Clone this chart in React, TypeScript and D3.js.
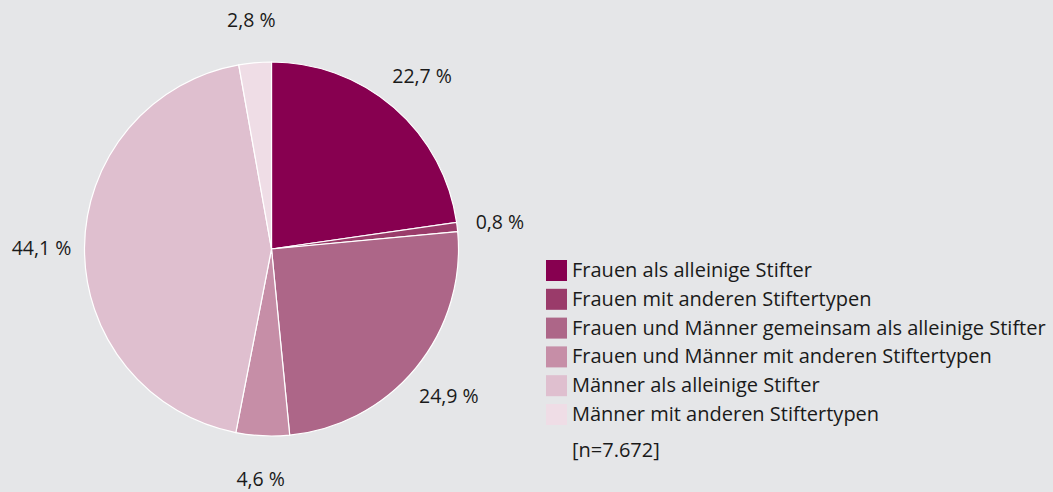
import React from "react";
import * as d3 from "d3";

const categories = [
  "Frauen als alleinige Stifter",
  "Frauen mit anderen Stiftertypen",
  "Frauen und Männer gemeinsam als alleinige Stifter",
  "Frauen und Männer mit anderen Stiftertypen",
  "Männer als alleinige Stifter",
  "Männer mit anderen Stiftertypen",
];
const values = [22.7, 0.8, 24.9, 4.6, 44.1, 2.8];
const colors = ["#870050", "#9a3b6a", "#ad6688", "#c68ea7", "#dfbfcf", "#efdde6"];
const note = "[n=7.672]";

const W = 1053;
const H = 492;
const cx = 271.5;
const cy = 249;
const R = 187;
const labelR = 230;
const font = "'Open Sans', 'Noto Sans', sans-serif";

export default function App() {
  const pie = d3.pie<number>().sort(null).value((d) => d)(values);
  const arc = d3.arc<d3.PieArcDatum<number>>().innerRadius(0).outerRadius(R);
  const fmt = (v: number) => v.toFixed(1).replace(".", ",") + " %";
  const legendY = d3.scaleLinear().domain([0, 5]).range([260, 404]);
  return (
    <svg width={W} height={H} style={{ position: "absolute", left: 0, top: 0, background: "#e5e6e8" }}>
      <rect x={0} y={0} width={W} height={H} fill="#e5e6e8" />
      <g transform={`translate(${cx},${cy})`}>
        {pie.map((p, i) => (
          <path key={i} d={arc(p) || ""} fill={colors[i]} stroke="#ffffff" strokeWidth={1.2} />
        ))}
        {pie.map((p, i) => {
          const a = (p.startAngle + p.endAngle) / 2;
          const x = labelR * Math.sin(a);
          const y = -labelR * Math.cos(a);
          return (
            <text key={i} x={x} y={y} textAnchor="middle" dominantBaseline="central" fontFamily={font} fontSize={19.5} fill="#1a1a1a">
              {fmt(values[i])}
            </text>
          );
        })}
      </g>
      {categories.map((c, i) => (
        <g key={i} transform={`translate(546,${legendY(i)})`}>
          <rect x={0} y={0} width={21} height={21} fill={colors[i]} />
          <text x={26} y={17} fontFamily={font} fontSize={20} fill="#1a1a1a">{c}</text>
        </g>
      ))}
      <text x={572} y={457} fontFamily={font} fontSize={20} fill="#1a1a1a">{note}</text>
    </svg>
  );
}
